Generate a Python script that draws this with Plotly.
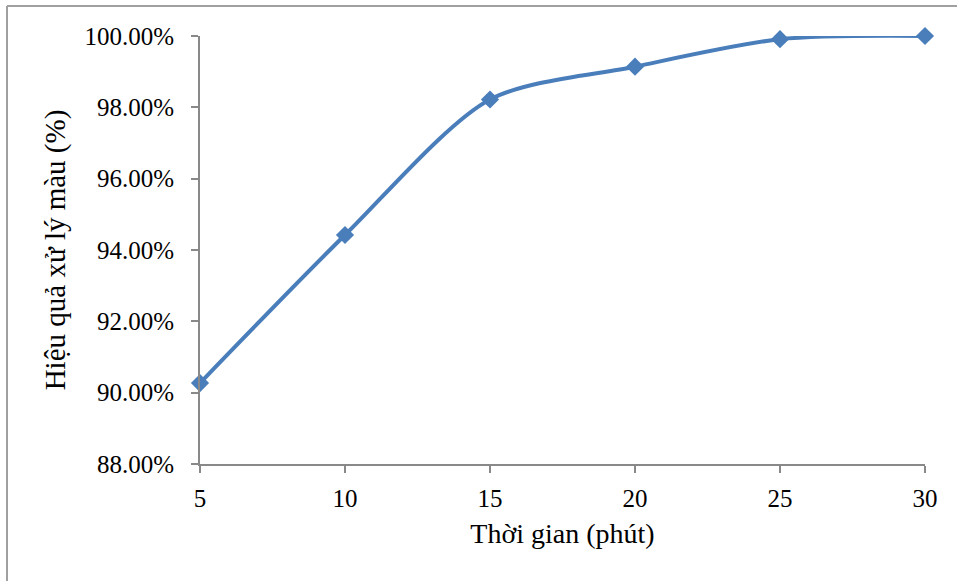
import plotly.graph_objects as go

time_min = [5, 10, 15, 20, 25, 30]
efficiency_pct = [90.27, 94.42, 98.22, 99.14, 99.91, 100.0]
y_ticks = [88, 90, 92, 94, 96, 98, 100]
y_tick_text = [f"{v:.2f}%" for v in y_ticks]
x_ticks = [5, 10, 15, 20, 25, 30]

W, H = 957, 581
L, R, T, B = 200, 32, 36, 117
pw, ph = W - L - R, H - T - B

font = "Liberation Serif, Times New Roman, serif"
axis_col = "#898989"

fig = go.Figure()
fig.add_trace(go.Scatter(
    x=time_min, y=efficiency_pct, mode="lines+markers",
    line=dict(color="#4A7EBB", width=4, shape="spline", smoothing=0.8),
    marker=dict(symbol="diamond", size=14, color="#4A7EBB"),
    cliponaxis=False, showlegend=False,
))

def px_x(p):
    return (p - L) / pw

def px_y(p):
    return (H - B - p) / ph

fig.update_layout(
    width=W, height=H,
    margin=dict(l=L, r=R, t=T, b=B),
    paper_bgcolor="white", plot_bgcolor="white",
    font=dict(family=font, size=25, color="black"),
    xaxis=dict(
        range=[5, 30], tickvals=x_ticks, showgrid=False, zeroline=False,
        showline=True, linecolor=axis_col, linewidth=2,
        ticks="outside", ticklen=7, tickcolor=axis_col, tickwidth=2,
        ticklabelstandoff=4,
        title=dict(text="Thời gian (phút)", font=dict(family=font, size=28), standoff=12),
    ),
    yaxis=dict(
        range=[88, 100], tickvals=y_ticks, ticktext=y_tick_text,
        showgrid=False, zeroline=False,
        showline=True, linecolor=axis_col, linewidth=2,
        ticks="outside", ticklen=7, tickcolor=axis_col, tickwidth=2,
        ticklabelstandoff=12,
        title=dict(text="Hiệu quả xử lý màu (%)", font=dict(family=font, size=29), standoff=10),
    ),
    shapes=[
        dict(type="line", xref="paper", yref="paper",
             x0=px_x(7), x1=px_x(W + 5), y0=px_y(6), y1=px_y(6),
             line=dict(color="#A0A0A0", width=2)),
        dict(type="line", xref="paper", yref="paper",
             x0=px_x(7), x1=px_x(7), y0=px_y(6), y1=px_y(H + 5),
             line=dict(color="#A0A0A0", width=2)),
    ],
)

fig.write_html("out.html")
